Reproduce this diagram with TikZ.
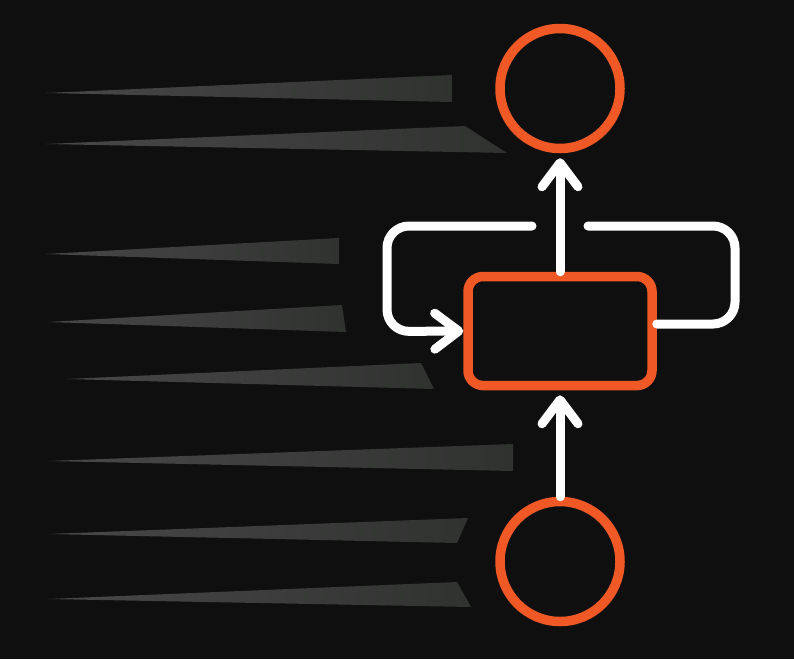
\documentclass[tikz,border=0pt]{standalone}
\usepackage{tikz}
\usetikzlibrary{positioning,arrows.meta,shapes}
\usepackage{xcolor}

\definecolor{bgdark}{RGB}{15,15,15}
\definecolor{rnnorange}{RGB}{240,88,38}
\definecolor{streakstart}{RGB}{72,72,72}
\definecolor{streakmid}{RGB}{86,86,86}
\definecolor{streakend}{RGB}{48,50,48}

\tikzset{
    unit/.style={circle, draw=rnnorange, line width=9.5pt, minimum size=120pt, inner sep=0pt},
    cell/.style={rectangle, rounded corners=15pt, draw=rnnorange, line width=9.5pt,
        minimum width=184pt, minimum height=109pt, inner sep=0pt},
    flow/.style={draw=white, line width=9pt, line cap=round, line join=round,
        -{Straight Barb[length=24pt,width=36pt,round]}},
    loopline/.style={draw=white, line width=9pt, line cap=round, rounded corners=22pt},
    streak/.style={left color=streakstart, middle color=streakmid, right color=streakend}
}

\begin{document}
\begin{tikzpicture}[x=1pt, y=-1pt]
        \fill[bgdark] (0,0) rectangle (794,659);

        % speed streaks
        \foreach \tx/\ty/\ax/\ay/\bx/\by in {46/93/452/75/452/102, 46/144/465/126/507/153,
            46/254/339/238/339/264, 48/322/342/305/346/332, 67/379/421/363/434/389,
            48/461/513/444/513/471, 48/534/468/518/457/543, 48/599/457/582/471/607}
            \shade[streak] (\tx,\ty) -- (\ax,\ay) -- (\bx,\by) -- cycle;

        \node[cell] (hidden) at (560,331) {};
        \node[unit] (output) at (560,88.5) {};
        \node[unit] (input) at (560,561.5) {};

        \draw[flow, shorten >=5pt] (input) -- (hidden);
        \draw[flow, shorten >=5pt] (hidden) -- (output);

        % recurrent loop
        \coordinate (loopin) at (532,226);
        \coordinate (loopout) at (588,226);
        \draw[loopline] ([yshift=7pt]hidden.east) -- (735,324) -- (735,226) -- (loopout);
        \draw[loopline, flow] (loopin) -- (387,226) -- (387,331.5) -- (hidden.west);
    \end{tikzpicture}
\end{document}
